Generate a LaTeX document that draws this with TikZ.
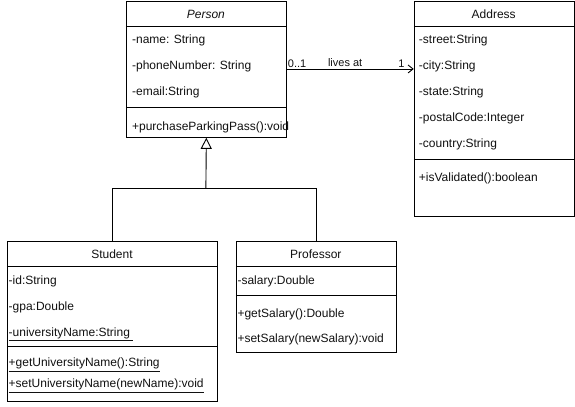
\documentclass[tikz,border=0pt]{standalone}
\usepackage{fontspec}
\setmainfont{Liberation Sans}
\usepackage{xcolor}
\usepackage{tikz}
\usetikzlibrary{arrows.meta,positioning,calc}
\definecolor{inkP}{HTML}{000000}
\definecolor{inkS}{HTML}{111111}
\tikzset{
  umlbox/.style={draw=inkP, line width=0.9pt, fill=white, anchor=north west,
                 inner sep=0pt},
  umlname/.style={font=\fontsize{12pt}{14pt}\selectfont, text=inkS,
                  inner sep=0pt, text height=10.9pt, text depth=2.5pt},
  umlattr/.style={umlname, anchor=west},
  umlrule/.style={draw=inkP, line width=0.9pt},
  inherit/.style={-{Triangle[open, length=11pt, width=11pt, fill=white]},
                  line width=0.9pt, draw=inkP},
  assoc/.style={-{Straight Barb[length=5pt, width=8pt]}, line width=0.9pt,
                draw=inkP},
  assoclab/.style={font=\fontsize{11pt}{13pt}\selectfont, text=inkS,
                   inner sep=0.8pt},
}

\begin{document}
\begin{tikzpicture}[x=1pt, y=-1pt]
  \fill[white] (0,0) rectangle (575,407);
  % Person
  \node[umlbox, minimum width=160pt, minimum height=136pt] (person) at (126,1) {};
  \draw[umlrule] ([yshift=-25pt]person.north west) -- ([yshift=-25pt]person.north east);
  \draw[umlrule] ([yshift=-107pt]person.north west) -- ([yshift=-107pt]person.north east);
  \node[umlname] (personName) at (206,14) {\textit{Person}};
  \foreach \t [count=\i] in {-name: String, -phoneNumber: String, -email:String}
    \node[umlattr] (personAttr\i) at (132,13+26*\i) {\t};
  \node[umlattr] (personOp1) at (132,126) {+purchaseParkingPass():void};
  % Address
  \node[umlbox, minimum width=160pt, minimum height=215pt] (address) at (414,1) {};
  \draw[umlrule] ([yshift=-25pt]address.north west) -- ([yshift=-25pt]address.north east);
  \draw[umlrule] ([yshift=-159pt]address.north west) -- ([yshift=-159pt]address.north east);
  \node[umlname] (addressName) at (494,14) {Address};
  \foreach \t [count=\i] in {-street:String, -city:String, -state:String,
                             -postalCode:Integer, -country:String}
    \node[umlattr] (addressAttr\i) at (419,13+26*\i) {\t};
  \node[umlattr] (addressOp1) at (419,177) {+isValidated():boolean};
  % Student
  \node[umlbox, minimum width=210pt, minimum height=160pt] (student) at (7,241) {};
  \draw[umlrule] ([yshift=-26pt]student.north west) -- ([yshift=-26pt]student.north east);
  \draw[umlrule] ([yshift=-106pt]student.north west) -- ([yshift=-106pt]student.north east);
  \node[umlname] (studentName) at (112,254) {Student};
  \foreach \t [count=\i] in {-id:String, -gpa:Double,
                             \underline{-universityName:String\ }}
    \node[umlattr] (studentAttr\i) at (8.5,254+26*\i) {\t};
  \node[umlattr] (studentOp1) at (8.5,363) {\underline{+getUniversityName():String}};
  \node[umlattr] (studentOp2) at (8.5,384) {\underline{+setUniversityName(newName):void}};
  % Professor
  \node[umlbox, minimum width=160pt, minimum height=111pt] (professor) at (236,241) {};
  \draw[umlrule] ([yshift=-26pt]professor.north west) -- ([yshift=-26pt]professor.north east);
  \draw[umlrule] ([yshift=-55pt]professor.north west) -- ([yshift=-55pt]professor.north east);
  \node[umlname] (professorName) at (316,254) {Professor};
  \node[umlattr] (professorAttr1) at (237.5,280) {-salary:Double};
  \node[umlattr] (professorOp1) at (237.5,313) {+getSalary():Double};
  \node[umlattr] (professorOp2) at (237.5,339) {+setSalary(newSalary):void};
  % generalization
  \coordinate (joint) at (206,189);
  \draw[umlrule] (student.north) |- (joint) -| (professor.north);
  \draw[inherit] (joint) -- (person.south);
  % association
  \draw[assoc] (person.east |- 0,69) --
    node[assoclab, at start, anchor=south west] (multFrom) {0..1}
    node[assoclab, pos=0.46, anchor=south, yshift=1pt] (assocName) {lives at}
    node[assoclab, at end, anchor=south east, xshift=-8pt] (multTo) {1}
    (address.west |- 0,69);
\end{tikzpicture}
\end{document}
